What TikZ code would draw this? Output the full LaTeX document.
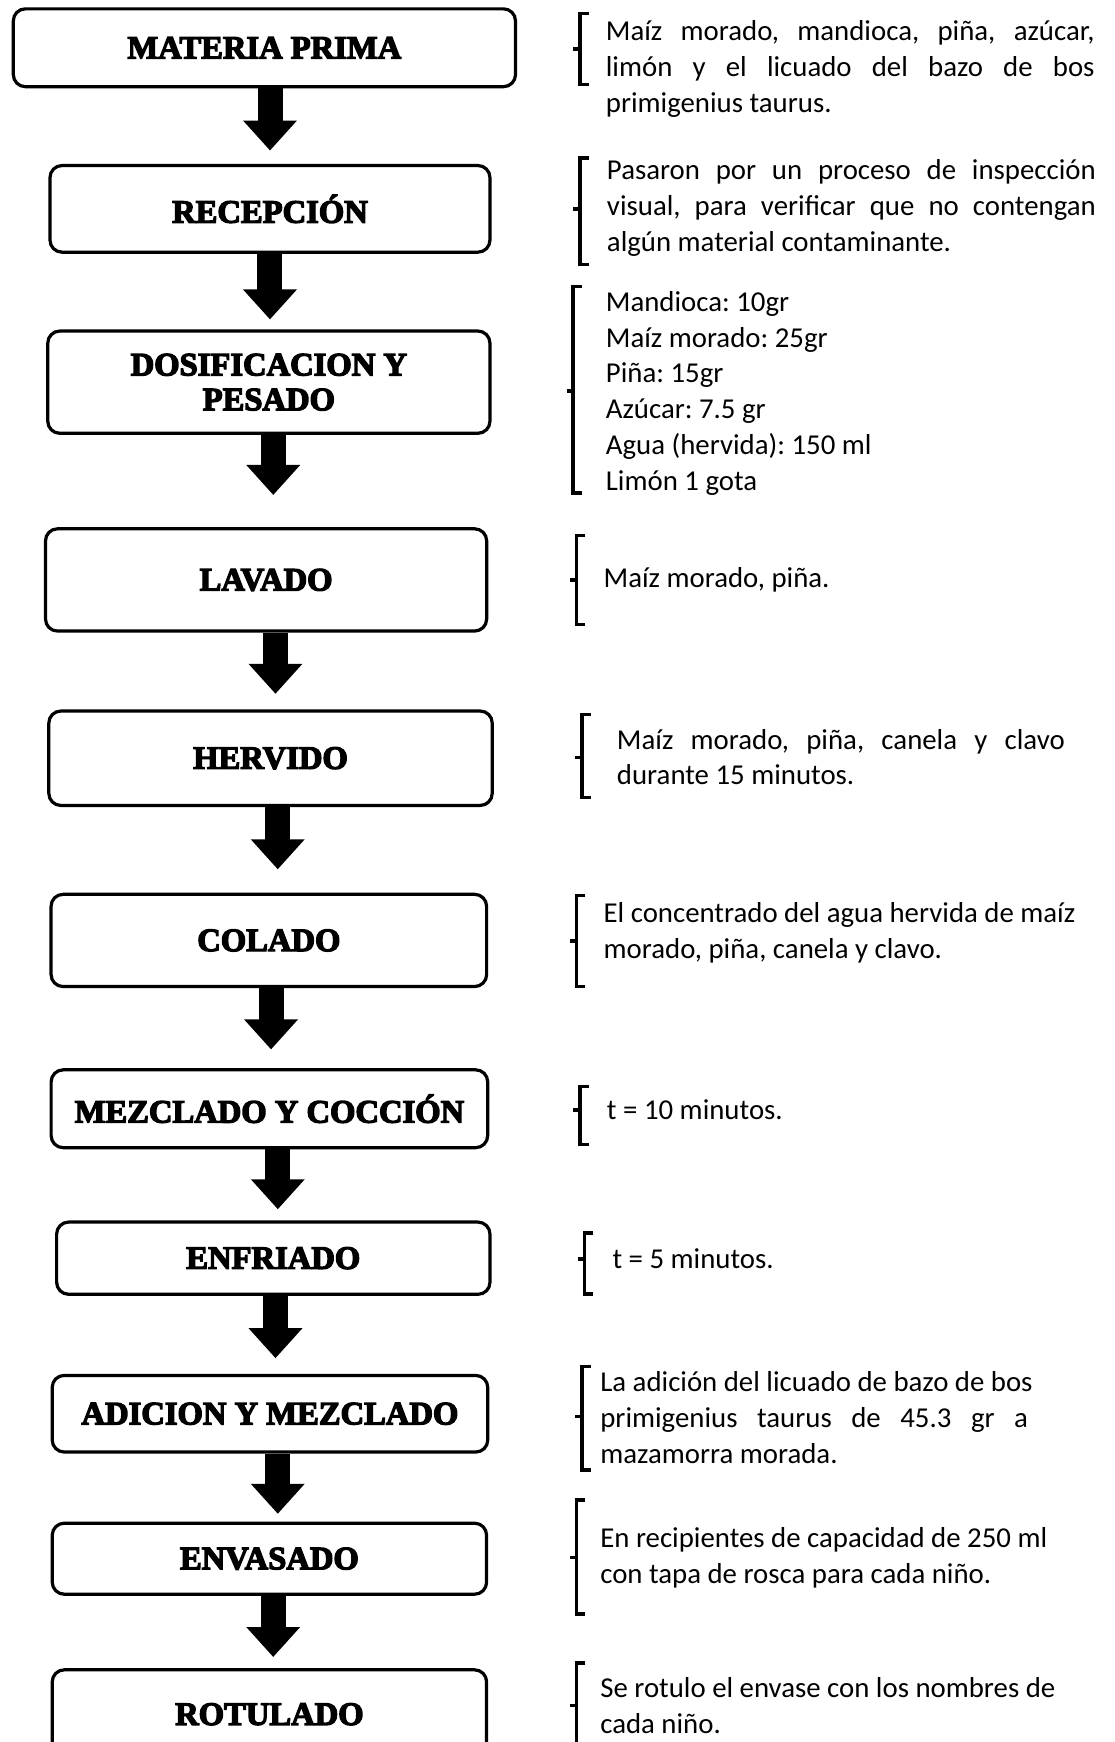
\documentclass[tikz,border=0pt]{standalone}
\usepackage{fontspec}
\setmainfont{Carlito}
\newfontfamily\stepfont[FakeBold=4]{Liberation Serif Bold}
\usetikzlibrary{arrows.meta,calc}
\frenchspacing
% justified single line of a note
\newcommand\jline[2]{\makebox[#1][s]{#2}}

\begin{document}
\begin{tikzpicture}[x=0.5553pt,y=-0.5553pt,
  stepbox/.style={draw, line width=1.6pt, rounded corners=6pt, fill=white,
    inner sep=0pt, align=center,
    font=\stepfont\fontsize{16.3}{17.4}\selectfont},
  note/.style={anchor=west, inner sep=0pt, align=left,
    font=\fontsize{14.4}{17.9}\selectfont},
  bigarrow/.style={line width=12.5pt, -{Triangle[width=26pt,length=15pt]}},
  brk/.style={line width=1.8pt}]

\useasboundingbox (0,0) rectangle (1003,1568);
\clip (0,0) rectangle (1003,1568);

% process steps
\node[stepbox, minimum width=251pt, minimum height=38.9pt] (b1) at (238,43) {MATERIA PRIMA};
\node[stepbox, minimum width=219.9pt, minimum height=43.3pt] (b2) at (243,188) {RECEPCIÓN};
\node[stepbox, minimum width=221pt, minimum height=51.1pt] (b3) at (242,344) {DOSIFICACION Y\\PESADO};
\node[stepbox, minimum width=220.5pt, minimum height=51.1pt] (b4) at (239.5,522) {LAVADO};
\node[stepbox, minimum width=221.6pt, minimum height=47.2pt] (b5) at (243.5,682.5) {HERVIDO};
\node[stepbox, minimum width=217.7pt, minimum height=46.1pt] (b6) at (242,846.5) {COLADO};
\node[stepbox, minimum width=218.2pt, minimum height=38.9pt] (b7) at (242.5,998) {MEZCLADO Y COCCIÓN};
\node[stepbox, minimum width=216.6pt, minimum height=36.1pt] (b8) at (246,1132.5) {ENFRIADO};
\node[stepbox, minimum width=217.7pt, minimum height=38.3pt] (b9) at (243,1272.5) {ADICION Y MEZCLADO};
\node[stepbox, minimum width=217.1pt, minimum height=35.5pt] (b10) at (242.5,1403) {ENVASADO};
\node[stepbox, minimum width=217.1pt, minimum height=44.4pt] (b11) at (242.5,1543) {ROTULADO};

% block arrows between steps
\draw[bigarrow, shorten >=6.7pt, transform canvas={xshift=2.8pt}] (b1.south) -- (b1.south |- b2.north);
\draw[bigarrow, shorten >=5pt] (b2.south) -- (b2.south |- b3.north);
\draw[bigarrow, shorten >=16.1pt, transform canvas={xshift=2.2pt}] (b3.south) -- (b3.south |- b4.north);
\draw[bigarrow, shorten >=7.8pt, transform canvas={xshift=4.7pt}] (b4.south) -- (b4.south |- b5.north);
\draw[bigarrow, shorten >=11.7pt, transform canvas={xshift=3.6pt}] (b5.south) -- (b5.south |- b6.north);
\draw[bigarrow, shorten >=9.4pt, transform canvas={xshift=1.1pt}] (b6.south) -- (b6.south |- b7.north);
\draw[bigarrow, shorten >=5.6pt, transform canvas={xshift=4.2pt}] (b7.south) -- (b7.south |- b8.north);
\draw[bigarrow, shorten >=7.8pt, transform canvas={xshift=1.1pt}] (b8.south) -- (b8.south |- b9.north);
\draw[bigarrow, shorten >=3.9pt, transform canvas={xshift=3.9pt}] (b9.south) -- (b9.south |- b10.north);
\draw[bigarrow, shorten >=5.6pt, transform canvas={xshift=1.9pt}] (b10.south) -- (b10.south |- b11.north);

% brackets
\draw[brk] (530,12) -- (522,12) -- (522,76) -- (530,76) (522,44) -- (516,44);
\draw[brk] (530,142) -- (522,142) -- (522,238) -- (530,238) (522,188) -- (516,188);
\draw[brk] (524,258) -- (516,258) -- (516,444) -- (524,444) (516,352) -- (510,352);
\draw[brk] (527,482) -- (519,482) -- (519,562) -- (527,562) (519,522) -- (513,522);
\draw[brk] (532,643) -- (524,643) -- (524,718) -- (532,718) (524,682) -- (518,682);
\draw[brk] (527,806) -- (519,806) -- (519,888) -- (527,888) (519,847) -- (513,847);
\draw[brk] (530,978) -- (522,978) -- (522,1030) -- (530,1030) (522,999) -- (516,999);
\draw[brk] (534,1110) -- (526,1110) -- (526,1165) -- (534,1165) (526,1133) -- (520,1133);
\draw[brk] (532,1230) -- (524,1230) -- (524,1323) -- (532,1323) (524,1275) -- (518,1275);
\draw[brk] (527,1350) -- (519,1350) -- (519,1453) -- (527,1453) (519,1402) -- (513,1402);
\draw[brk] (527,1497) -- (519,1497) -- (519,1580) (519,1535) -- (513,1535);

% notes
\node[note] (n1) at (545,62) {\jline{244.3pt}{Maíz morado, mandioca, piña, azúcar,}\\\jline{244.3pt}{limón y el licuado del bazo de bos}\\primigenius taurus.};
\node[note] (n2) at (546,187) {\jline{244.3pt}{Pasaron por un proceso de inspección}\\\jline{244.3pt}{visual, para verificar que no contengan}\\algún material contaminante.};
\node[note] (n3) at (545,354) {Mandioca: 10gr\\Maíz morado: 25gr\\Piña: 15gr\\Azúcar: 7.5 gr\\Agua (hervida): 150 ml\\Limón 1 gota};
\node[note] (n4) at (543,522) {Maíz morado, piña.};
\node[note] (n5) at (555,681.5) {\jline{223.8pt}{Maíz morado, piña, canela y clavo}\\durante 15 minutos.};
\node[note] (n6) at (543,839.5) {El concentrado del agua hervida de maíz\\morado, piña, canela y clavo.};
\node[note] (n7) at (546,999) {t = 10 minutos.};
\node[note] (n8) at (551,1133) {t = 5 minutos.};
\node[note] (n9) at (540,1276) {La adición del licuado de bazo de bos\\\jline{213.8pt}{primigenius taurus de 45.3 gr a}\\mazamorra morada.};
\node[note] (n10) at (540,1402) {En recipientes de capacidad de 250 ml\\con tapa de rosca para cada niño.};
\node[note] (n11) at (540,1535.5) {Se rotulo el envase con los nombres de\\cada niño.};
\end{tikzpicture}
\end{document}
